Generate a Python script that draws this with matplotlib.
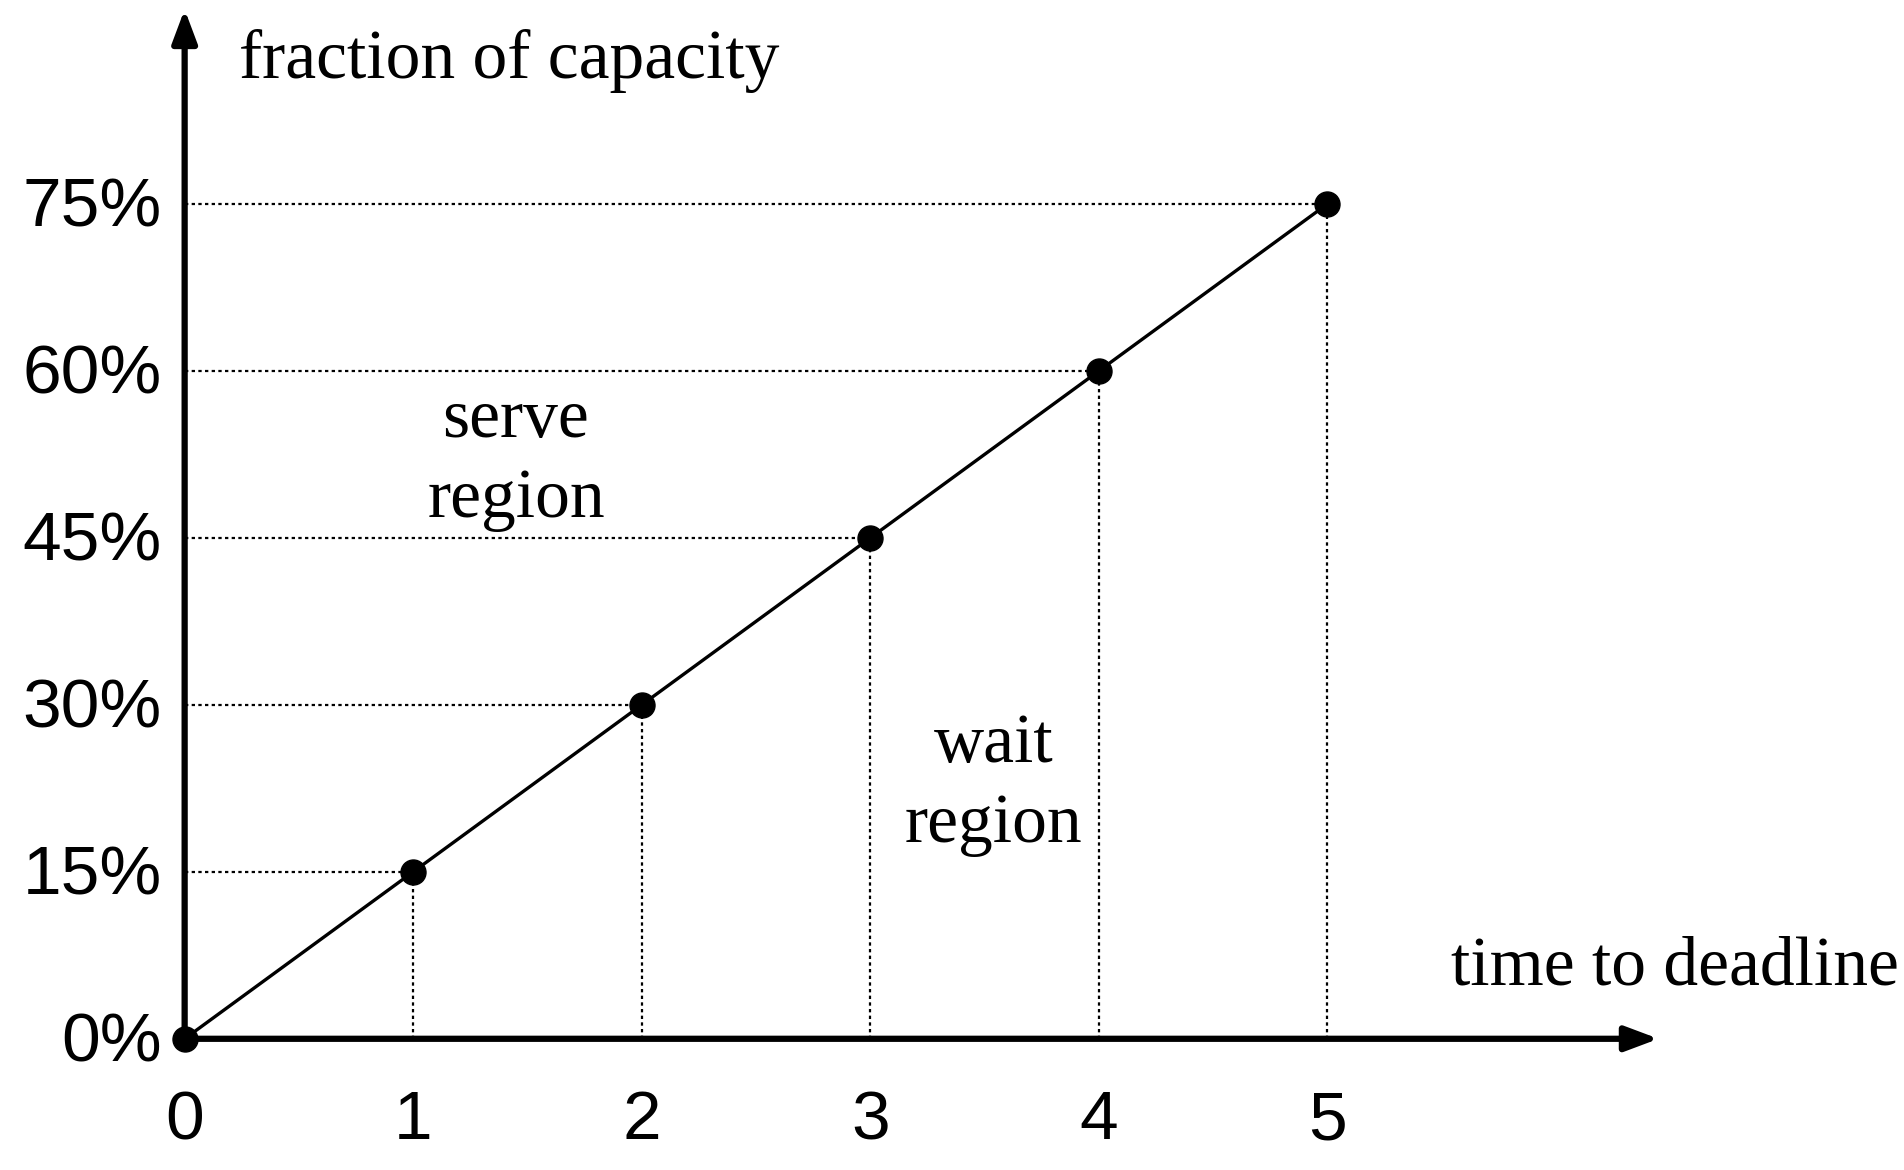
import matplotlib.pyplot as plt

times = [0, 1, 2, 3, 4, 5]
capacity = [0, 15, 30, 45, 60, 75]
y_labels = ['0%', '15%', '30%', '45%', '60%', '75%']

fig = plt.figure(figsize=(19.04, 11.7), dpi=100)
ax = fig.add_axes([0, 0, 1, 1])
ax.set_xlim(-0.808, 7.524)
ax.set_ylim(-11.79, 93.34)
ax.axis('off')

serif = 'Liberation Serif'
sans = 'Liberation Sans'
fs = 50

# dotted guides
for t, c in zip(times[1:], capacity[1:]):
    ax.plot([0, t], [c, c], ls=(0, (1.5, 1.5)), color='black', lw=1.6)
    ax.plot([t, t], [0, c], ls=(0, (1.5, 1.5)), color='black', lw=1.6)

ax.plot(times, capacity, color='black', lw=2.4, marker='o', markersize=18, zorder=3)

# axes arrows
arrow = dict(arrowstyle='-|>,head_length=2.0,head_width=0.75', color='black', lw=4.5,
             shrinkA=0, shrinkB=0)
ax.annotate('', xy=(6.45, 0), xytext=(0, 0), arrowprops=arrow)
ax.annotate('', xy=(0, 92.5), xytext=(0, 0), arrowprops=arrow)

for t in times:
    ax.text(t, -7.4, str(t), ha='center', va='center', fontsize=fs, family=sans)
for c, lab in zip(capacity, y_labels):
    ax.text(-0.1, c - 0.4, lab, ha='right', va='center', fontsize=fs, family=sans)

ax.text(0.24, 87.9, 'fraction of capacity', ha='left', va='center', fontsize=fs, family=serif)
ax.text(7.5, 6.4, 'time to deadline', ha='right', va='center', fontsize=fs, family=serif)
ax.text(1.45, 55.6, 'serve', ha='center', va='center', fontsize=fs, family=serif)
ax.text(1.45, 48.4, 'region', ha='center', va='center', fontsize=fs, family=serif)
ax.text(3.54, 26.4, 'wait', ha='center', va='center', fontsize=fs, family=serif)
ax.text(3.54, 19.2, 'region', ha='center', va='center', fontsize=fs, family=serif)

fig.savefig('out.png', dpi=100, facecolor='white')
